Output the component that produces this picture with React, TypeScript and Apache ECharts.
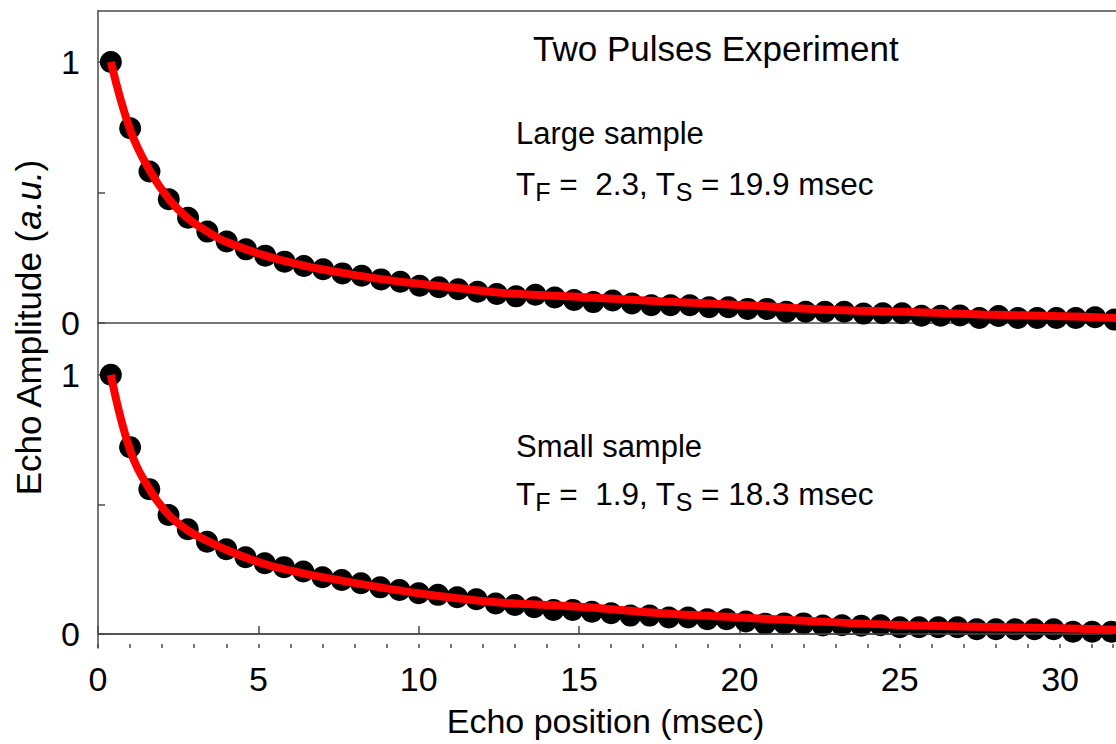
import React, { useEffect, useRef } from 'react';
import * as echarts from 'echarts';

// Echo positions (msec)
const echoTimes = [
  0.4, 1.0, 1.6, 2.2, 2.8, 3.4, 4.0, 4.6, 5.2, 5.8,
  6.4, 7.0, 7.6, 8.2, 8.8, 9.4, 10.0, 10.6, 11.2, 11.8,
  12.4, 13.0, 13.6, 14.2, 14.8, 15.4, 16.0, 16.6, 17.2, 17.8,
  18.4, 19.0, 19.6, 20.2, 20.8, 21.4, 22.0, 22.6, 23.2, 23.8,
  24.4, 25.0, 25.6, 26.2, 26.8, 27.4, 28.0, 28.6, 29.2, 29.8,
  30.4, 31.0, 31.6,
];

// Large sample echo amplitudes (a.u.)
const largeSample = [
  1.0, 0.746, 0.58, 0.474, 0.403, 0.35, 0.312, 0.282, 0.258, 0.235,
  0.218, 0.206, 0.19, 0.181, 0.167, 0.158, 0.143, 0.137, 0.129, 0.12,
  0.111, 0.102, 0.108, 0.098, 0.088, 0.08, 0.086, 0.075, 0.068, 0.068,
  0.068, 0.06, 0.06, 0.054, 0.054, 0.043, 0.043, 0.043, 0.043, 0.036,
  0.037, 0.037, 0.028, 0.028, 0.029, 0.019, 0.027, 0.019, 0.019, 0.019,
  0.019, 0.022, 0.013,
];

// Small sample echo amplitudes (a.u.)
const smallSample = [
  1.0, 0.721, 0.559, 0.459, 0.404, 0.356, 0.327, 0.296, 0.273, 0.258,
  0.241, 0.219, 0.208, 0.196, 0.18, 0.17, 0.157, 0.151, 0.142, 0.134,
  0.118, 0.112, 0.103, 0.093, 0.093, 0.086, 0.08, 0.071, 0.071, 0.064,
  0.064, 0.057, 0.057, 0.048, 0.04, 0.041, 0.041, 0.033, 0.034, 0.032,
  0.034, 0.026, 0.026, 0.026, 0.026, 0.018, 0.018, 0.018, 0.018, 0.018,
  0.009, 0.009, 0.009,
];

// Fitted curves
const fitTimes = [0.4, 1.0, 1.6, 2.2, 2.8, 3.4, 4.0, 5.2, 6.4, 7.6, 8.8, 10.0, 11.2, 12.6, 15, 17.6, 20, 22.5, 25, 27.5, 30, 32];
const largeFit = [1.0, 0.74, 0.585, 0.475, 0.4, 0.35, 0.31, 0.258, 0.22, 0.192, 0.168, 0.15, 0.134, 0.115, 0.1, 0.082, 0.069, 0.052, 0.043, 0.033, 0.026, 0.018];
const smallFit = [1.0, 0.71, 0.56, 0.46, 0.4, 0.36, 0.325, 0.27, 0.234, 0.206, 0.18, 0.157, 0.138, 0.121, 0.105, 0.08, 0.064, 0.048, 0.035, 0.028, 0.022, 0.015];

const yTickValues = [0, 0.5, 1];
const yLabelValues = [0, 1];
const xLabelMax = 30;
const xMax = 31.65;

const FONT = '"Liberation Sans", Arial, Helvetica, sans-serif';
const AXIS_COLOR = '#4a4a4a';

export default function App() {
  const ref = useRef<HTMLDivElement>(null);

  useEffect(() => {
    if (!ref.current) return;
    const chart = echarts.init(ref.current, null, { renderer: 'svg' });
    const pairs = (xs: number[], ys: number[]) => xs.map((x, i) => [x, ys[i]]);
    const line = { lineStyle: { color: AXIS_COLOR, width: 1.5 } };

    const yAxisCommon = {
      type: 'value',
      axisLine: { show: true, ...line },
      axisTick: { show: true, inside: true, length: 7, customValues: yTickValues, lineStyle: { color: AXIS_COLOR, width: 1.5 } },
      axisLabel: { customValues: yLabelValues, fontSize: 34, color: '#000', margin: 18, fontFamily: FONT },
      splitLine: { show: false },
    };

    const bare = { axisTick: { show: false }, axisLabel: { show: false }, splitLine: { show: false } };

    chart.setOption({
      animation: false,
      backgroundColor: '#ffffff',
      textStyle: { fontFamily: FONT },
      grid: [
        { left: 98, top: 11, right: 0, height: 312 },
        { left: 98, top: 323, right: 0, height: 325 },
      ],
      xAxis: [
        // top panel: zero line (bottom) and frame (top)
        { gridIndex: 0, type: 'value', min: 0, max: xMax, position: 'bottom', axisLine: { show: true, ...line }, ...bare },
        { gridIndex: 0, type: 'value', min: 0, max: xMax, position: 'top', axisLine: { show: true, ...line }, ...bare },
        // bottom panel: labelled axis with major ticks
        {
          gridIndex: 1, type: 'value', min: 0, max: xMax, interval: 5, position: 'bottom',
          axisLine: { show: true, ...line },
          axisTick: { show: true, inside: true, length: 8, lineStyle: { color: AXIS_COLOR, width: 1.5 } },
          axisLabel: {
            fontSize: 34, color: '#000', margin: 14, fontFamily: FONT,
            formatter: (v: number) => (v <= xLabelMax ? String(v) : ''),
          },
          name: 'Echo position (msec)', nameLocation: 'middle', nameGap: 56,
          nameTextStyle: { fontSize: 34, color: '#000', fontFamily: FONT },
          splitLine: { show: false },
        },
        // bottom panel: minor ticks
        {
          gridIndex: 1, type: 'value', min: 0, max: xMax, interval: 1, position: 'bottom',
          axisLine: { show: false },
          axisTick: { show: true, inside: true, length: 4, lineStyle: { color: AXIS_COLOR, width: 1.5 } },
          axisLabel: { show: false }, splitLine: { show: false },
        },
      ],
      yAxis: [
        { gridIndex: 0, min: 0, max: 1.195, ...yAxisCommon },
        { gridIndex: 1, min: -0.054, max: 1.2, ...yAxisCommon },
      ],
      series: [
        {
          type: 'scatter', xAxisIndex: 0, yAxisIndex: 0, data: pairs(echoTimes, largeSample),
          symbol: 'circle', symbolSize: 22, itemStyle: { color: '#000', opacity: 1 }, z: 2,
        },
        {
          type: 'line', xAxisIndex: 0, yAxisIndex: 0, data: pairs(fitTimes, largeFit),
          showSymbol: false, smooth: 0.4,
          lineStyle: { color: '#ff0000', width: 8 }, itemStyle: { color: '#ff0000' }, z: 3,
        },
        {
          type: 'scatter', xAxisIndex: 2, yAxisIndex: 1, data: pairs(echoTimes, smallSample),
          symbol: 'circle', symbolSize: 22, itemStyle: { color: '#000', opacity: 1 }, z: 2,
          markLine: {
            silent: true, symbol: ['none', 'none'], label: { show: false },
            lineStyle: { color: AXIS_COLOR, width: 1.5, type: 'solid', opacity: 1 },
            emphasis: { disabled: true },
            data: [{ yAxis: 0 }],
          },
        },
        {
          type: 'line', xAxisIndex: 2, yAxisIndex: 1, data: pairs(fitTimes, smallFit),
          showSymbol: false, smooth: 0.4,
          lineStyle: { color: '#ff0000', width: 8 }, itemStyle: { color: '#ff0000' }, z: 3,
        },
      ],
      graphic: [
        {
          type: 'text', x: 533, y: 48,
          style: { text: 'Two Pulses Experiment', fontSize: 35, fontFamily: FONT, fill: '#000', verticalAlign: 'middle', align: 'left' },
        },
        {
          type: 'text', x: 516, y: 133,
          style: { text: 'Large sample', fontSize: 31, fontFamily: FONT, fill: '#000', verticalAlign: 'middle', align: 'left' },
        },
        {
          type: 'text', x: 516, y: 184,
          style: {
            text: '{n|T}{s|F}{n| =  2.3, T}{s|S}{n| = 19.9 msec}',
            fontFamily: FONT, fill: '#000', verticalAlign: 'middle', align: 'left',
            rich: {
              n: { fontSize: 31.5, lineHeight: 40, verticalAlign: 'middle', fontFamily: FONT, fill: '#000' },
              s: { fontSize: 25, lineHeight: 25, verticalAlign: 'bottom', fontFamily: FONT, fill: '#000' },
            },
          },
        },
        {
          type: 'text', x: 516, y: 446,
          style: { text: 'Small sample', fontSize: 31, fontFamily: FONT, fill: '#000', verticalAlign: 'middle', align: 'left' },
        },
        {
          type: 'text', x: 516, y: 494,
          style: {
            text: '{n|T}{s|F}{n| =  1.9, T}{s|S}{n| = 18.3 msec}',
            fontFamily: FONT, fill: '#000', verticalAlign: 'middle', align: 'left',
            rich: {
              n: { fontSize: 31.5, lineHeight: 40, verticalAlign: 'middle', fontFamily: FONT, fill: '#000' },
              s: { fontSize: 25, lineHeight: 25, verticalAlign: 'bottom', fontFamily: FONT, fill: '#000' },
            },
          },
        },
        {
          type: 'text', x: 28, y: 328, rotation: Math.PI / 2,
          style: {
            text: '{n|Echo Amplitude (}{i|a.u.}{n|)}',
            fontFamily: FONT, fill: '#000', align: 'center', verticalAlign: 'middle',
            rich: {
              n: { fontSize: 35, fontFamily: FONT, fill: '#000' },
              i: { fontSize: 35, fontStyle: 'italic', fontFamily: FONT, fill: '#000' },
            },
          },
        },
      ],
    });

    return () => chart.dispose();
  }, []);

  return (
    <div style={{ position: 'fixed', left: 0, top: 0, width: 1116, height: 744, background: '#fff' }}>
      <div ref={ref} style={{ width: 1116, height: 744 }} />
    </div>
  );
}
